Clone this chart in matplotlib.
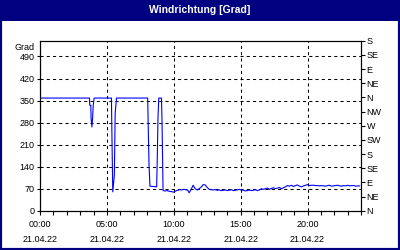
import matplotlib
matplotlib.use("Agg")
import matplotlib.pyplot as plt
from matplotlib.patches import Rectangle
from matplotlib.ticker import MultipleLocator

NAVY = "#000080"
FONT = "Liberation Sans"

# wind direction, hours since 00:00 on 21.04.22 -> degrees
hours = [
    0.00, 3.70, 3.72, 3.80, 3.82, 3.88, 3.93, 3.98, 4.05,
    5.34, 5.36, 5.44, 5.56, 5.62, 5.72,
    8.05, 8.08, 8.15, 8.22, 8.72, 8.76, 8.82, 8.88, 9.08, 9.12,
    9.20, 9.35, 9.50, 9.65, 9.80, 10.00, 10.15, 10.30, 10.45, 10.60,
    10.75, 10.90, 11.05, 11.15, 11.30, 11.45, 11.60, 11.75, 11.90, 12.05,
    12.20, 12.35, 12.50, 12.65, 12.80, 12.95, 13.10, 13.25, 13.40, 13.55,
    13.70, 13.85, 14.00, 14.15, 14.30, 14.45, 14.60, 14.75, 14.90, 15.05,
    15.20, 15.35, 15.50, 15.65, 15.80, 15.95, 16.10, 16.25, 16.40, 16.55,
    16.70, 16.85, 17.00, 17.15, 17.30, 17.45, 17.60, 17.75, 17.90, 18.05,
    18.20, 18.35, 18.50, 18.65, 18.80, 18.95, 19.10, 19.25, 19.40, 19.55,
    19.70, 19.85, 20.00, 20.15, 20.30, 20.45, 20.60, 20.75, 20.90, 21.05,
    21.20, 21.35, 21.50, 21.65, 21.80, 21.95, 22.10, 22.25, 22.40, 22.55,
    22.70, 22.85, 23.00, 23.15, 23.30, 23.45, 23.60, 23.75, 23.90,
]
degrees = [
    358, 358, 335, 335, 293, 266, 293, 335, 358,
    358, 293, 60, 113, 309, 358,
    358, 293, 148, 78, 76, 148, 293, 358, 358, 293,
    64, 63, 64, 62, 61, 59, 63, 65, 67, 66,
    68, 67, 65, 57, 68, 81, 70, 66, 70, 75,
    83, 82, 74, 68, 67, 66, 67, 65, 66, 64,
    65, 66, 64, 65, 67, 64, 65, 66, 68, 66,
    65, 63, 64, 66, 64, 65, 67, 64, 66, 70,
    68, 70, 72, 68, 71, 73, 70, 72, 74, 70,
    73, 76, 80, 78, 81, 77, 80, 82, 78, 76,
    79, 81, 83, 80, 81, 81, 80, 80, 79, 80,
    79, 78, 80, 81, 78, 79, 80, 81, 79, 78,
    80, 79, 81, 79, 80, 80, 78, 79, 79,
]

x_ticks = [0, 5, 10, 15, 20]
x_labels = ["00:00\n21.04.22", "05:00\n21.04.22", "10:00\n21.04.22",
            "15:00\n21.04.22", "20:00\n21.04.22"]
left_ticks = [0, 70, 140, 210, 280, 350, 420, 490]
compass_ticks = [0, 45, 90, 135, 180, 225, 270, 315, 360, 405, 450, 495, 540]
compass_labels = ["N", "NE", "E", "SE", "S", "SW", "W", "NW",
                  "N", "NE", "E", "SE", "S"]

fig = plt.figure(figsize=(4, 2.5), dpi=100, facecolor="white")

# window frame and title bar
fig.add_artist(Rectangle((0, 0), 1, 1, transform=fig.transFigure,
                         fill=False, edgecolor=NAVY, linewidth=3))
fig.add_artist(Rectangle((0, 1 - 21 / 250), 1, 21 / 250, transform=fig.transFigure,
                         facecolor=NAVY, edgecolor="none"))
fig.text(0.5, 1 - 10 / 250, "Windrichtung [Grad]", ha="center", va="center",
         color="white", fontsize=7.5, fontweight="bold", family=FONT)

ax = fig.add_axes([0.1, 0.157, 0.8025, 0.68])
ax.plot(hours, degrees, color="#0000ff", linewidth=0.8)
ax.set_xlim(0, 24)
ax.set_ylim(0, 540)

ax.set_xticks(x_ticks)
ax.set_xticklabels(x_labels, linespacing=1.75)
ax.xaxis.set_minor_locator(MultipleLocator(1))
ax.set_yticks(left_ticks)
ax.tick_params(axis="x", which="both", direction="out", length=3, width=0.8,
               pad=4, labelsize=6.5)
ax.tick_params(axis="y", direction="out", length=2, width=0.8, pad=2,
               labelsize=6.5)
for lab in ax.get_xticklabels() + ax.get_yticklabels():
    lab.set_family(FONT)
ax.grid(True, which="major", color="black", linestyle=(0, (3, 3)), linewidth=0.75)
for s in ax.spines.values():
    s.set_linewidth(0.8)

ax2 = ax.twinx()
ax2.set_ylim(0, 540)
ax2.set_yticks(compass_ticks)
ax2.set_yticklabels(compass_labels)
ax2.tick_params(axis="y", direction="out", length=3, width=0.8, pad=1,
                labelsize=6.5)
for lab in ax2.get_yticklabels():
    lab.set_family(FONT)

fig.text(35 / 400, 1 - 47 / 250, "Grad", ha="right", va="center",
         fontsize=6.5, family=FONT)

fig.savefig("out.png", dpi=100)
